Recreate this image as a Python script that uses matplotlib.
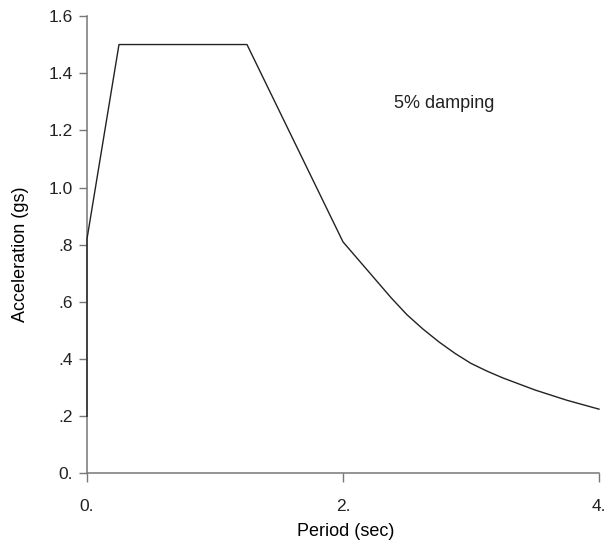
import matplotlib
matplotlib.use("Agg")
import matplotlib.pyplot as plt

# response spectrum
period = [0.0, 0.0, 0.25, 1.25, 2.0, 2.125, 2.25, 2.375, 2.5, 2.625, 2.75,
          2.875, 3.0, 3.125, 3.25, 3.5, 3.75, 4.0]
accel = [0.2, 0.82, 1.5, 1.5, 0.81, 0.745, 0.68, 0.615, 0.555, 0.505, 0.46,
         0.42, 0.385, 0.358, 0.334, 0.292, 0.256, 0.225]

xticks = [0, 2, 4]
xticklabels = ["0.", "2.", "4."]
yticks = [0.0, 0.2, 0.4, 0.6, 0.8, 1.0, 1.2, 1.4, 1.6]
yticklabels = ["0.", ".2", ".4", ".6", ".8", "1.0", "1.2", "1.4", "1.6"]

plt.rcParams.update({
    "font.family": ["Liberation Sans", "DejaVu Sans"],
    "font.size": 13,
    "text.color": "#222222",
    "xtick.color": "#777777",
    "ytick.color": "#777777",
    "xtick.labelcolor": "#222222",
    "ytick.labelcolor": "#222222",
    "xtick.labelsize": 12.5,
    "ytick.labelsize": 12.5,
})

fig = plt.figure(figsize=(6.07, 5.46), dpi=100)
ax = fig.add_axes([0.1433, 0.1328, 0.8435, 0.838])

ax.plot(period, accel, color="#222222", lw=1.0, clip_on=False, zorder=3)

ax.set_xlim(0, 4)
ax.set_ylim(0, 1.6)
ax.set_xticks(xticks)
ax.set_xticklabels(xticklabels)
ax.set_yticks(yticks)
ax.set_yticklabels(yticklabels)

for side in ["top", "right"]:
    ax.spines[side].set_visible(False)
for side in ["left", "bottom"]:
    ax.spines[side].set_color("#777777")
    ax.spines[side].set_linewidth(1.1)

ax.tick_params(axis="x", direction="out", length=6.5, width=1.0, pad=12)
ax.tick_params(axis="y", direction="out", length=6, width=1.0, pad=4)

ax.set_xlabel("Period (sec)")
ax.xaxis.set_label_coords(0.505, -0.126)
ax.xaxis.label.set_va("center")
ax.set_ylabel("Acceleration (gs)")
ax.yaxis.set_label_coords(-0.13, 0.48)
ax.yaxis.label.set_va("center")

ax.text(2.40, 1.295, "5% damping", ha="left", va="center")

fig.savefig("out.png", dpi=100)
